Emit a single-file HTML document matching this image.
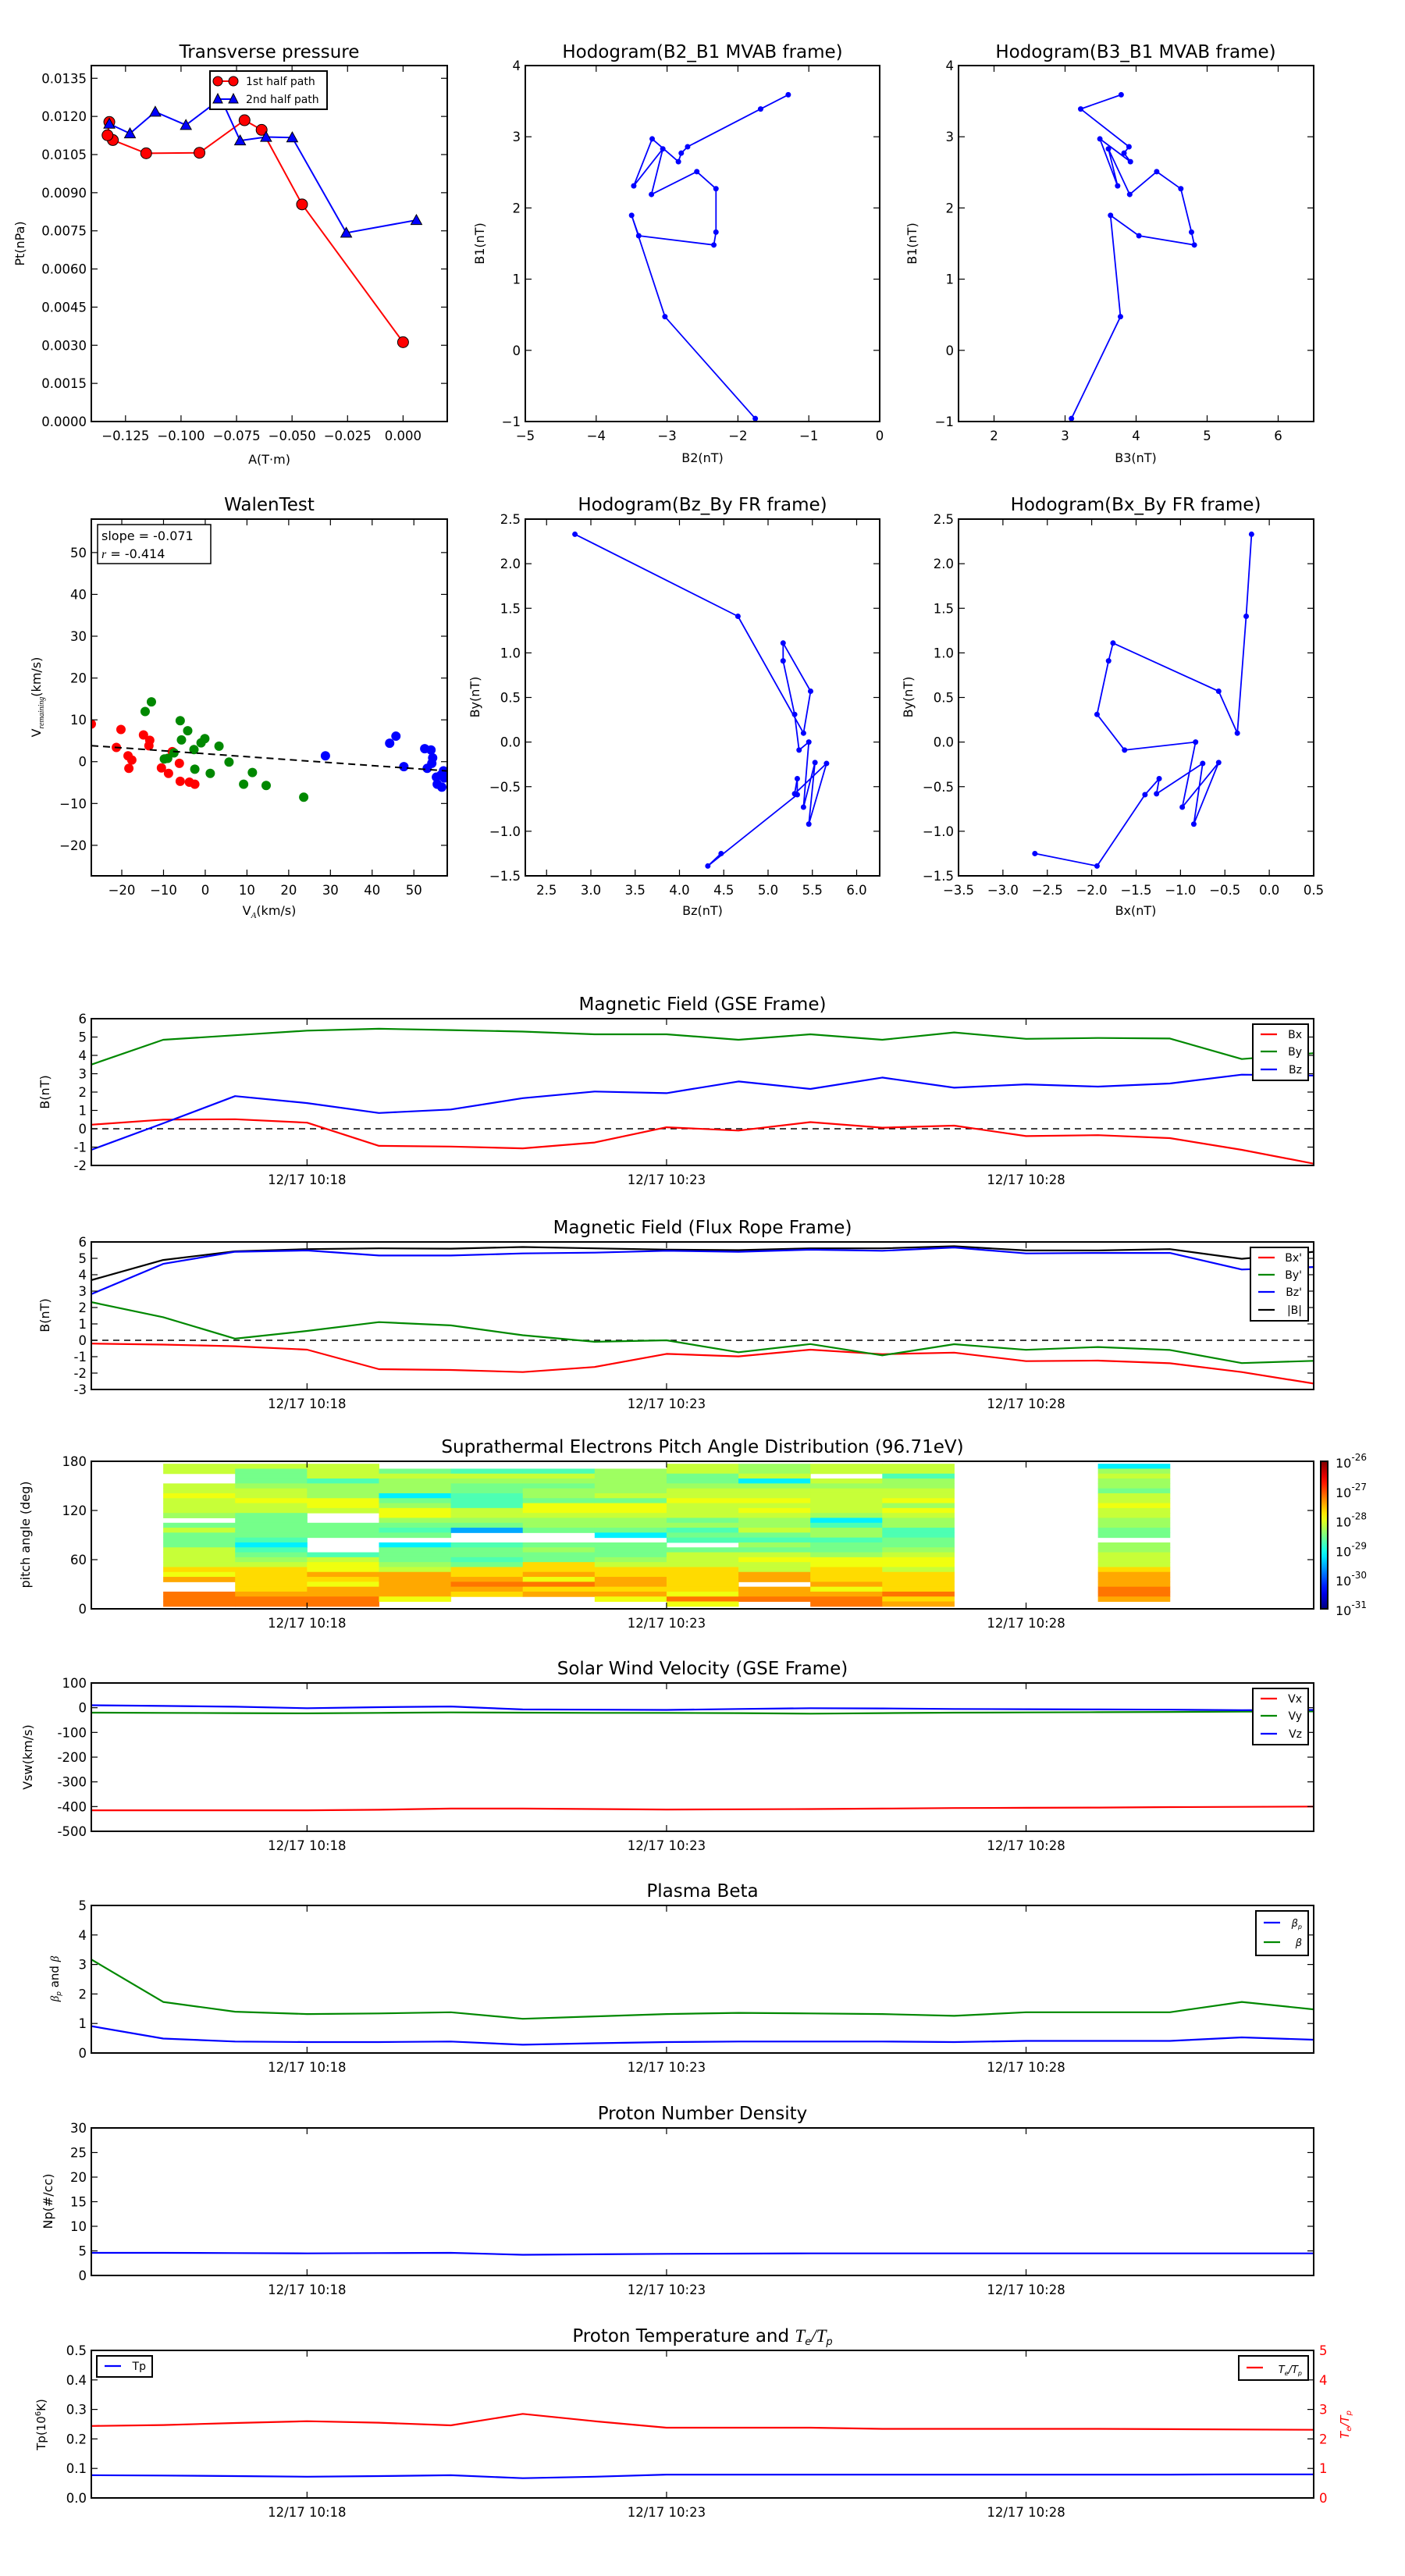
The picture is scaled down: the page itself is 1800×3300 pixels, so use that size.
<!DOCTYPE html>
<html><head><meta charset="utf-8"><title>Flux rope analysis</title>
<style>
html,body{margin:0;padding:0;background:#fff;}
svg{display:block;}
text{font-family:"DejaVu Sans","Liberation Sans",sans-serif;}
</style></head>
<body>
<svg id="fig" width="1800" height="3300" viewBox="0 0 1800 3300" xmlns="http://www.w3.org/2000/svg"></svg>
<script>
// ---------------- DATA ----------------
// Transverse pressure
const redA=[0.0,-0.0455,-0.0637,-0.0714,-0.0917,-0.1157,-0.1307,-0.1331,-0.1323];
const redPt=[0.00312,0.00854,0.01147,0.01185,0.01057,0.01055,0.01107,0.01126,0.01178];
const blueA=[-0.1323,-0.1230,-0.1116,-0.0978,-0.0820,-0.0734,-0.0617,-0.0499,-0.0256,0.0060];
const bluePt=[0.01171,0.01133,0.01218,0.01166,0.0127,0.01105,0.01119,0.01117,0.00742,0.00792];
// MVAB hodograms
const mvB1=[-0.958,0.473,1.896,1.61,1.48,1.66,2.27,2.51,2.19,2.83,2.31,2.97,2.65,2.77,2.86,3.39,3.59];
const mvB2=[-1.755,-3.03,-3.50,-3.40,-2.34,-2.31,-2.31,-2.58,-3.22,-3.06,-3.47,-3.21,-2.84,-2.80,-2.71,-1.68,-1.29];
const mvB3=[3.09,3.78,3.64,4.04,4.82,4.78,4.63,4.29,3.91,3.61,3.74,3.49,3.92,3.83,3.90,3.22,3.79];
// Walen test
const walRedX=[-27.3,-20.2,-21.3,-18.5,-17.6,-18.3,-14.8,-13.3,-13.5,-10.5,-8.8,-7.9,-6.2,-6.0,-3.8,-2.5];
const walRedY=[9.0,7.7,3.4,1.4,0.4,-1.6,6.4,5.1,3.8,-1.5,-2.8,2.4,-0.4,-4.7,-4.9,-5.4];
const walGrnX=[-14.4,-12.9,-9.8,-9.0,-7.5,-6.0,-5.7,-4.2,-2.7,-2.5,-1.0,-0.1,1.2,3.3,5.7,9.2,11.3,14.6,23.6];
const walGrnY=[12.0,14.3,0.65,0.8,2.1,9.8,5.2,7.4,2.9,-1.8,4.5,5.5,-2.8,3.7,-0.1,-5.4,-2.6,-5.7,-8.5];
const walBluX=[28.8,44.2,45.7,47.6,52.6,54.1,53.2,54.5,54.3,55.4,55.6,56.7,57.1,57.3,56.5];
const walBluY=[1.4,4.4,6.1,-1.2,3.1,2.8,-1.6,0.9,-0.4,-3.7,-5.4,-6.1,-2.2,-3.9,-3.2];
const walSlope=-0.071, walIntercept=1.9;
// time axis
const timeLabels=["12/17 10:18","12/17 10:23","12/17 10:28"];
const timeTickIdx=[3,8,13];
// GSE field
const gseBx=[0.22,0.5,0.52,0.33,-0.93,-0.97,-1.07,-0.75,0.08,-0.1,0.36,0.06,0.17,-0.4,-0.35,-0.51,-1.15,-1.9];
const gseBy=[3.5,4.85,5.1,5.35,5.45,5.38,5.3,5.15,5.15,4.85,5.15,4.85,5.25,4.9,4.95,4.92,3.8,4.12];
const gseBz=[-1.15,0.3,1.78,1.4,0.86,1.05,1.67,2.03,1.94,2.58,2.17,2.79,2.24,2.42,2.3,2.47,2.95,2.9];
// Flux-rope frame field
const frBx=[-0.2,-0.26,-0.36,-0.57,-1.76,-1.81,-1.94,-1.63,-0.83,-0.98,-0.57,-0.85,-0.75,-1.27,-1.24,-1.4,-1.94,-2.64];
const frBy=[2.33,1.41,0.1,0.57,1.11,0.91,0.31,-0.09,0,-0.73,-0.23,-0.92,-0.24,-0.58,-0.41,-0.59,-1.39,-1.25];
const frBz=[2.82,4.66,5.4,5.48,5.17,5.17,5.3,5.35,5.46,5.4,5.53,5.46,5.66,5.3,5.33,5.33,4.32,4.47];
const frBt=[3.67,4.9,5.43,5.56,5.61,5.59,5.69,5.61,5.53,5.5,5.61,5.61,5.74,5.48,5.48,5.56,4.97,5.4];
// Pitch angle distribution (codes per 6-deg bin, top 177deg -> bottom 3deg)
const padColumnIdx=[1,2,3,4,5,6,7,8,9,10,11,14];
const padColumns=[
"yy..yyYyyyl.gygggyyyyoYO..rrr",
"yggglyyYyygggggtctglyoooooOrr",
"yyytlllYYy..ggg...tyYYOoYOOrr",
".gylllcglYYlgtg.cggglyOOOOOY.",
".tylggtttyylgb..tggtgooOrOo..",
".tylgllgYYyllg..glggooOYroO..",
".lllllygYYyllgc.ggglyooOOoOY.",
"yygglyyYyyygltgt.gyyyoooooYrY",
"llyclyyYyYyllygtlgyYyyOO.OOr.",
"yy.ylyyyyylctlltgglYYoooOYOrr",
"yytllyyYlYyllttgglyYYyooooroO",
"clyllgyyYyyllgg.llyyyoOOOrrO."];
const padCodes={b:-29.55,c:-29.2,t:-28.75,g:-28.55,l:-28.35,y:-28.15,Y:-27.95,o:-27.7,O:-27.45,r:-27.2};
// Solar wind velocity
const vx=[-415,-415,-415,-415,-413,-408,-408,-410,-412,-411,-410,-408,-406,-405,-404,-402,-401,-400];
const vy=[-20,-21,-22,-23,-21,-19,-20,-21,-21,-22,-24,-22,-20,-19,-18,-17,-16,-15];
const vz=[10,7,4,-2,2,5,-7,-8,-9,-5,-2,-3,-5,-6,-7,-8,-10,-9];
// Plasma beta
const betaAll=[3.17,1.73,1.4,1.32,1.34,1.38,1.16,1.24,1.32,1.36,1.34,1.32,1.26,1.38,1.38,1.38,1.73,1.48];
const betaP=[0.91,0.49,0.39,0.37,0.37,0.39,0.28,0.33,0.37,0.39,0.39,0.39,0.37,0.41,0.41,0.41,0.53,0.45];
// Proton density
const np=[4.6,4.6,4.55,4.5,4.55,4.6,4.2,4.3,4.4,4.45,4.5,4.5,4.5,4.5,4.5,4.5,4.5,4.5];
// Temperatures
const tp=[0.077,0.076,0.074,0.072,0.074,0.077,0.067,0.072,0.079,0.079,0.079,0.079,0.079,0.079,0.079,0.079,0.08,0.08];
const teTp=[2.44,2.47,2.54,2.6,2.55,2.46,2.85,2.6,2.38,2.38,2.38,2.34,2.34,2.34,2.34,2.33,2.32,2.31];

// ---------------- DRAWING ----------------
const NS='http://www.w3.org/2000/svg';
const svg=document.getElementById('fig');
const TITLE=23, TICK=16.5;
function mk(tag,attrs,name,parent){
  const el=document.createElementNS(NS,tag);
  for(const k in attrs) el.setAttribute(k,attrs[k]);
  
  
  (parent||svg).appendChild(el);
  return el;
}
function txt(x,y,s,size,anchor,name,parent,extra){
  const a={x:x,y:y,'font-size':size,'text-anchor':anchor||'middle'};
  if(extra) for(const k in extra) a[k]=extra[k];
  const t=mk('text',a,name,parent);
  t.textContent=s;
  return t;
}
function fmtMinus(s){return String(s).replace('-','\u2212');}
function makeAxes(name,x0,y0,x1,y1,xmin,xmax,ymin,ymax){
  const g=mk('g',{},name);
  const sx=v=>x0+(v-xmin)/(xmax-xmin)*(x1-x0);
  const sy=v=>y1-(v-ymin)/(ymax-ymin)*(y1-y0);
  const clipId='clip-'+name;
  const cp=mk('clipPath',{id:clipId},'clip-region',g);
  mk('rect',{x:x0,y:y0,width:x1-x0,height:y1-y0},'clip-rect',cp);
  const plot=mk('g',{'clip-path':'url(#'+clipId+')'},'plot-area',g);
  return {g,plot,sx,sy,x0,y0,x1,y1};
}
function frame(ax){
  mk('rect',{x:ax.x0,y:ax.y0,width:ax.x1-ax.x0,height:ax.y1-ax.y0,fill:'none',stroke:'#000','stroke-width':2},'axes-frame',ax.g);
}
function yTicks(ax,vals,labels,name,color,right){
  vals.forEach((v,i)=>{
    const y=ax.sy(v);
    mk('line',{x1:ax.x0,y1:y,x2:ax.x0+8,y2:y,stroke:'#000','stroke-width':1.2},'y-tick',ax.g);
    mk('line',{x1:ax.x1,y1:y,x2:ax.x1-8,y2:y,stroke:'#000','stroke-width':1.2},'y-tick',ax.g);
    if(right) txt(ax.x1+7,y+6,labels[i],TICK,'start',name,ax.g,{fill:color||'#000'});
    else txt(ax.x0-6,y+6,labels[i],TICK,'end',name,ax.g,{fill:color||'#000'});
  });
}
function xTicks(ax,vals,labels,name){
  vals.forEach((v,i)=>{
    const x=ax.sx(v);
    mk('line',{x1:x,y1:ax.y1,x2:x,y2:ax.y1-8,stroke:'#000','stroke-width':1.2},'x-tick',ax.g);
    mk('line',{x1:x,y1:ax.y0,x2:x,y2:ax.y0+8,stroke:'#000','stroke-width':1.2},'x-tick',ax.g);
    txt(x,ax.y1+24,labels[i],TICK,'middle',name,ax.g);
  });
}
function poly(ax,xs,ys,color,name,w,dash){
  const pts=xs.map((x,i)=>ax.sx(x).toFixed(1)+','+ax.sy(ys[i]).toFixed(1)).join(' ');
  const a={points:pts,fill:'none',stroke:color,'stroke-width':w||2.2,'stroke-linejoin':'round'};
  if(dash) a['stroke-dasharray']=dash;
  return mk('polyline',a,name,ax.plot);
}
function dots(ax,xs,ys,color,r,name,edge){
  xs.forEach((x,i)=>{
    const a={cx:ax.sx(x),cy:ax.sy(ys[i]),r:r,fill:color};
    if(edge){a.stroke='#000';a['stroke-width']=1;}
    mk('circle',a,name,ax.plot);
  });
}
function tri(ax,xs,ys,color,s,name){
  xs.forEach((x,i)=>{
    const cx=ax.sx(x),cy=ax.sy(ys[i]);
    mk('polygon',{points:`${cx},${cy-s} ${cx-s},${cy+s*0.8} ${cx+s},${cy+s*0.8}`,fill:color,stroke:'#000','stroke-width':1},name,ax.plot);
  });
}
function ylabel(x,y,s,name,color,size){
  return txt(x,y,s,size||16,'middle',name,svg,{transform:`rotate(-90 ${x} ${y})`,fill:color||'#000'});
}
function range(a,b,s){const r=[];for(let v=a;v<=b+1e-9;v+=s)r.push(+v.toFixed(6));return r;}
function legend(x0,y0,w,h,items,name){
  const g=mk('g',{},name);
  mk('rect',{x:x0,y:y0,width:w,height:h,fill:'#fff',stroke:'#000','stroke-width':2},'legend-box',g);
  items.forEach((it)=>{
    const y=y0+it.dy;
    mk('line',{x1:x0+10,y1:y,x2:x0+31,y2:y,stroke:it.c,'stroke-width':2.2},'legend-line',g);
    txt(x0+w-8,y+5,it.t,14,'end','legend-label',g);
  });
  return g;
}

// ===== Row 1 =====
(function(){
  const ax=makeAxes('transverse-pressure-plot',117,84,573,540,-0.1404,0.0199,0,0.014);
  txt(345,74,'Transverse pressure',TITLE,'middle','transverse-pressure-title');
  poly(ax,redA,redPt,'#f00','red-path-line',2);
  poly(ax,blueA,bluePt,'#00f','blue-path-line',2);
  dots(ax,redA,redPt,'#f00',7,'red-point',true);
  tri(ax,blueA,bluePt,'#00f',7,'blue-point');
  frame(ax);
  const yv=range(0,0.0135,0.0015);
  yTicks(ax,yv,yv.map(v=>v.toFixed(4)),'y-tick-label');
  const xv=[-0.125,-0.1,-0.075,-0.05,-0.025,0];
  xTicks(ax,xv,xv.map(v=>fmtMinus(v.toFixed(3))),'x-tick-label');
  ylabel(31,312,'Pt(nPa)','y-axis-title');
  txt(345,594,'A(T\u00b7m)',16,'middle','x-axis-title');
  const lg=mk('g',{},'pressure-legend');
  mk('rect',{x:269,y:91,width:150,height:49,fill:'#fff',stroke:'#000','stroke-width':2},'legend-box',lg);
  mk('line',{x1:279,y1:104,x2:299,y2:104,stroke:'#f00','stroke-width':2},'legend-line',lg);
  mk('circle',{cx:279,cy:104,r:6,fill:'#f00',stroke:'#000'},'legend-marker',lg);
  mk('circle',{cx:299,cy:104,r:6,fill:'#f00',stroke:'#000'},'legend-marker',lg);
  txt(315,109,'1st half path',14,'start','legend-label',lg);
  mk('line',{x1:279,y1:127,x2:299,y2:127,stroke:'#00f','stroke-width':2},'legend-line',lg);
  mk('polygon',{points:'279,120 273,132 285,132',fill:'#00f',stroke:'#000'},'legend-marker',lg);
  mk('polygon',{points:'299,120 293,132 305,132',fill:'#00f',stroke:'#000'},'legend-marker',lg);
  txt(315,132,'2nd half path',14,'start','legend-label',lg);
})();
(function(){
  const ax=makeAxes('hodogram-b2-b1-plot',673,84,1127,540,-5,0,-1,4);
  txt(900,74,'Hodogram(B2_B1 MVAB frame)',TITLE,'middle','hodogram-b2-b1-title');
  poly(ax,mvB2,mvB1,'#00f','hodogram-line',1.8);
  dots(ax,mvB2,mvB1,'#00f',3.5,'hodogram-point');
  frame(ax);
  const yv=range(-1,4,1);
  yTicks(ax,yv,yv.map(v=>fmtMinus(v)),'y-tick-label');
  const xv=range(-5,0,1);
  xTicks(ax,xv,xv.map(v=>fmtMinus(v)),'x-tick-label');
  ylabel(620,312,'B1(nT)','y-axis-title');
  txt(900,592,'B2(nT)',16,'middle','x-axis-title');
})();
(function(){
  const ax=makeAxes('hodogram-b3-b1-plot',1228,84,1683,540,1.5,6.5,-1,4);
  txt(1455,74,'Hodogram(B3_B1 MVAB frame)',TITLE,'middle','hodogram-b3-b1-title');
  poly(ax,mvB3,mvB1,'#00f','hodogram-line',1.8);
  dots(ax,mvB3,mvB1,'#00f',3.5,'hodogram-point');
  frame(ax);
  const yv=range(-1,4,1);
  yTicks(ax,yv,yv.map(v=>fmtMinus(v)),'y-tick-label');
  const xv=range(2,6,1);
  xTicks(ax,xv,xv.map(v=>String(v)),'x-tick-label');
  ylabel(1174,312,'B1(nT)','y-axis-title');
  txt(1455,592,'B3(nT)',16,'middle','x-axis-title');
})();

// ===== Row 2 =====
(function(){
  const ax=makeAxes('walen-test-plot',117,665,573,1122,-27.3,58,-27.3,58);
  txt(345,654,'WalenTest',TITLE,'middle','walen-test-title');
  dots(ax,walRedX,walRedY,'#f00',6,'walen-red-point');
  dots(ax,walGrnX,walGrnY,'#080',6,'walen-green-point');
  dots(ax,walBluX,walBluY,'#00f',6,'walen-blue-point');
  const lx=[-27.3,58];
  const ly=lx.map(x=>walIntercept+walSlope*x);
  poly(ax,lx,ly,'#000','walen-fit-line',2,'9,6');
  frame(ax);
  const yv=range(-20,50,10);
  yTicks(ax,yv,yv.map(v=>fmtMinus(v)),'y-tick-label');
  const xv=range(-20,50,10);
  xTicks(ax,xv,xv.map(v=>fmtMinus(v)),'x-tick-label');
  const bx=mk('g',{},'walen-stats-box');
  mk('rect',{x:125,y:672,width:145,height:50,fill:'#fff',stroke:'#000','stroke-width':1.5},'stats-box-frame',bx);
  txt(130,692,'slope = -0.071',16,'start','slope-text',bx);
  const rt=txt(130,715,'',16,'start','r-text',bx);
  rt.innerHTML='<tspan font-style="italic" font-family="Liberation Serif, serif">r</tspan> = -0.414';
  const yl=txt(52,893,'',16,'middle','y-axis-title',svg,{transform:'rotate(-90 52 893)'});
  yl.innerHTML='V<tspan font-size="10" font-style="italic" font-family="Liberation Serif, serif" dy="4">remaining</tspan><tspan dy="-4">(km/s)</tspan>';
  const xl=txt(345,1172,'',16,'middle','x-axis-title');
  xl.innerHTML='V<tspan font-size="11" font-style="italic" font-family="Liberation Serif, serif" dy="4">A</tspan><tspan dy="-4">(km/s)</tspan>';
})();
(function(){
  const ax=makeAxes('hodogram-bz-by-plot',673,665,1127,1122,2.26,6.26,-1.5,2.5);
  txt(900,654,'Hodogram(Bz_By FR frame)',TITLE,'middle','hodogram-bz-by-title');
  poly(ax,frBz,frBy,'#00f','hodogram-line',1.8);
  dots(ax,frBz,frBy,'#00f',3.5,'hodogram-point');
  frame(ax);
  const yv=range(-1.5,2.5,0.5);
  yTicks(ax,yv,yv.map(v=>fmtMinus(v.toFixed(1))),'y-tick-label');
  const xv=range(2.5,6,0.5);
  xTicks(ax,xv,xv.map(v=>v.toFixed(1)),'x-tick-label');
  ylabel(614,893,'By(nT)','y-axis-title');
  txt(900,1172,'Bz(nT)',16,'middle','x-axis-title');
})();
(function(){
  const ax=makeAxes('hodogram-bx-by-plot',1228,665,1683,1122,-3.5,0.5,-1.5,2.5);
  txt(1455,654,'Hodogram(Bx_By FR frame)',TITLE,'middle','hodogram-bx-by-title');
  poly(ax,frBx,frBy,'#00f','hodogram-line',1.8);
  dots(ax,frBx,frBy,'#00f',3.5,'hodogram-point');
  frame(ax);
  const yv=range(-1.5,2.5,0.5);
  yTicks(ax,yv,yv.map(v=>fmtMinus(v.toFixed(1))),'y-tick-label');
  const xv=range(-3.5,0.5,0.5);
  xTicks(ax,xv,xv.map(v=>fmtMinus(v.toFixed(1))),'x-tick-label');
  ylabel(1169,893,'By(nT)','y-axis-title');
  txt(1455,1172,'Bx(nT)',16,'middle','x-axis-title');
})();

// ===== Time series panels =====
const idx=[...Array(18).keys()];
function tsPanel(name,y0,y1,ymin,ymax,title){
  const ax=makeAxes(name,117,y0,1683,y1,0,17,ymin,ymax);
  txt(900,y0-11,title,TITLE,'middle',name+'-title');
  return ax;
}
function timeTicks(ax){xTicks(ax,timeTickIdx,timeLabels,'time-tick-label');}

(function(){
  const ax=tsPanel('gse-field-plot',1305,1493,-2,6,'Magnetic Field (GSE Frame)');
  poly(ax,[0,17],[0,0],'#000','zero-line',1.5,'8,6');
  poly(ax,idx,gseBx,'#f00','bx-line');
  poly(ax,idx,gseBy,'#080','by-line');
  poly(ax,idx,gseBz,'#00f','bz-line');
  frame(ax);
  const yv=range(-2,6,1);
  yTicks(ax,yv,yv.map(String),'y-tick-label');
  timeTicks(ax);
  ylabel(63,1399,'B(nT)','y-axis-title');
  legend(1605,1312,71,72,[{dy:13,c:'#f00',t:'Bx'},{dy:35,c:'#080',t:'By'},{dy:58,c:'#00f',t:'Bz'}],'gse-legend');
})();
(function(){
  const ax=tsPanel('fr-field-plot',1591,1780,-3,6,'Magnetic Field (Flux Rope Frame)');
  poly(ax,[0,17],[0,0],'#000','zero-line',1.5,'8,6');
  poly(ax,idx,frBx,'#f00','bx-prime-line');
  poly(ax,idx,frBy,'#080','by-prime-line');
  poly(ax,idx,frBt,'#000','b-total-line');
  poly(ax,idx,frBz,'#00f','bz-prime-line');
  frame(ax);
  const yv=range(-3,6,1);
  yTicks(ax,yv,yv.map(String),'y-tick-label');
  timeTicks(ax);
  ylabel(63,1685,'B(nT)','y-axis-title');
  legend(1602,1598,74,94,[{dy:13,c:'#f00',t:"Bx'"},{dy:35,c:'#080',t:"By'"},{dy:57,c:'#00f',t:"Bz'"},{dy:80,c:'#000',t:'|B|'}],'fr-legend');
})();
function jet(p){
  const c=v=>Math.round(255*Math.max(0,Math.min(1,v)));
  return `rgb(${c(1.5-Math.abs(4*p-3))},${c(1.5-Math.abs(4*p-2))},${c(1.5-Math.abs(4*p-1))})`;
}
(function(){
  const ax=tsPanel('pitch-angle-plot',1872,2061,0,180,'Suprathermal Electrons Pitch Angle Distribution (96.71eV)');
  padColumns.forEach((col,ci)=>{
    const t0=padColumnIdx[ci];
    for(let r=0;r<29;r++){
      const code=col[r];
      if(!code||code==='.') continue;
      const v=padCodes[code];
      const top=177-6*r;
      const x=ax.sx(t0), y=ax.sy(top);
      mk('rect',{x:x,y:y,width:ax.sx(t0+1)-x+0.5,height:ax.sy(top-6)-y+0.5,fill:jet((v+31)/5)},'pad-cell',ax.plot);
    }
  });
  frame(ax);
  const yv=[0,60,120,180];
  yTicks(ax,yv,yv.map(String),'y-tick-label');
  timeTicks(ax);
  ylabel(38,1966,'pitch angle (deg)','y-axis-title');
  const cb=mk('g',{},'colorbar');
  const defs=mk('defs',{},'colorbar-defs',cb);
  const lg=mk('linearGradient',{id:'jetgrad',x1:0,y1:1,x2:0,y2:0},'colorbar-gradient',defs);
  for(let i=0;i<=20;i++){mk('stop',{offset:(i/20),'stop-color':jet(i/20)},'gradient-stop',lg);}
  mk('rect',{x:1692,y:1872,width:9,height:189,fill:'url(#jetgrad)',stroke:'#000','stroke-width':2},'colorbar-bar',cb);
  for(let k=0;k<=5;k++){
    const y=2061-k*189/5;
    const t=txt(1711,y+8,'',16,'start','colorbar-label',cb);
    t.innerHTML='10<tspan dy="-9" font-size="12">-'+(31-k)+'</tspan>';
  }
})();
(function(){
  const ax=tsPanel('solar-wind-velocity-plot',2156,2346,-500,100,'Solar Wind Velocity (GSE Frame)');
  poly(ax,idx,vx,'#f00','vx-line');
  poly(ax,idx,vy,'#080','vy-line');
  poly(ax,idx,vz,'#00f','vz-line');
  frame(ax);
  const yv=range(-500,100,100);
  yTicks(ax,yv,yv.map(String),'y-tick-label');
  timeTicks(ax);
  ylabel(41,2251,'Vsw(km/s)','y-axis-title');
  legend(1605,2163,71,72,[{dy:13,c:'#f00',t:'Vx'},{dy:35,c:'#080',t:'Vy'},{dy:58,c:'#00f',t:'Vz'}],'velocity-legend');
})();
(function(){
  const ax=tsPanel('plasma-beta-plot',2441,2630,0,5,'Plasma Beta');
  poly(ax,idx,betaAll,'#080','beta-line');
  poly(ax,idx,betaP,'#00f','beta-p-line');
  frame(ax);
  const yv=range(0,5,1);
  yTicks(ax,yv,yv.map(String),'y-tick-label');
  timeTicks(ax);
  const yl=txt(75,2535,'',15,'middle','y-axis-title',svg,{transform:'rotate(-90 75 2535)'});
  yl.innerHTML='<tspan font-style="italic" font-family="Liberation Serif, serif">\u03b2</tspan><tspan font-size="9" dy="3" font-style="italic">p</tspan><tspan dy="-3"> and </tspan><tspan font-style="italic" font-family="Liberation Serif, serif">\u03b2</tspan>';
  const g=legend(1609,2448,67,57,[{dy:15,c:'#00f',t:''},{dy:40,c:'#080',t:''}],'beta-legend');
  const a=txt(1668,2468,'',13,'end','legend-label',g,{'font-style':'italic','font-family':'Liberation Serif, serif'});
  a.innerHTML='\u03b2<tspan font-size="8" dy="3">p</tspan>';
  txt(1668,2493,'\u03b2',13,'end','legend-label',g,{'font-style':'italic','font-family':'Liberation Serif, serif'});
})();
(function(){
  const ax=tsPanel('proton-density-plot',2726,2915,0,30,'Proton Number Density');
  poly(ax,idx,np,'#00f','np-line');
  frame(ax);
  const yv=range(0,30,5);
  yTicks(ax,yv,yv.map(String),'y-tick-label');
  timeTicks(ax);
  ylabel(67,2820,'Np(#/cc)','y-axis-title');
})();
(function(){
  const ax=tsPanel('proton-temperature-plot',3011,3200,0,0.5,'');
  const tt=svg.lastElementChild;
  tt.innerHTML='Proton Temperature and <tspan font-style="italic" font-family="Liberation Serif, serif">T</tspan><tspan font-size="13" font-style="italic" dy="4">e</tspan><tspan dy="-4" font-style="italic" font-family="Liberation Serif, serif">/T</tspan><tspan font-size="13" font-style="italic" dy="4">p</tspan>';
  const sy2=v=>ax.y1-v/5*(ax.y1-ax.y0);
  const pts=idx.map(i=>ax.sx(i).toFixed(1)+','+sy2(teTp[i]).toFixed(1)).join(' ');
  mk('polyline',{points:pts,fill:'none',stroke:'#f00','stroke-width':2.2},'te-tp-line',ax.plot);
  poly(ax,idx,tp,'#00f','tp-line');
  frame(ax);
  const yv=range(0,0.5,0.1);
  yTicks(ax,yv,yv.map(v=>v.toFixed(1)),'y-tick-label');
  [0,1,2,3,4,5].forEach(v=>{
    txt(ax.x1+7,sy2(v)+6,String(v),TICK,'start','right-tick-label',ax.g,{fill:'#f00'});
  });
  timeTicks(ax);
  const yl=txt(58,3106,'',15,'middle','y-axis-title',svg,{transform:'rotate(-90 58 3106)'});
  yl.innerHTML='Tp(10<tspan font-size="10" dy="-6">6</tspan><tspan dy="6">K)</tspan>';
  const yr=txt(1728,3106,'',15,'middle','right-axis-title',svg,{transform:'rotate(-90 1728 3106)',fill:'#f00','font-style':'italic','font-family':'Liberation Serif, serif'});
  yr.innerHTML='T<tspan font-size="10" dy="3">e</tspan><tspan dy="-3">/T</tspan><tspan font-size="10" dy="3">p</tspan>';
  legend(124,3018,71,27,[{dy:13,c:'#00f',t:'Tp'}],'tp-legend');
  const g=legend(1587,3018,89,31,[{dy:15,c:'#f00',t:''}],'te-tp-legend');
  const l=txt(1668,3040,'',13,'end','legend-label',g,{'font-style':'italic','font-family':'Liberation Serif, serif'});
  l.innerHTML='T<tspan font-size="8" dy="3">e</tspan><tspan dy="-3">/T</tspan><tspan font-size="8" dy="3">p</tspan>';
})();
</script>
</body></html>
